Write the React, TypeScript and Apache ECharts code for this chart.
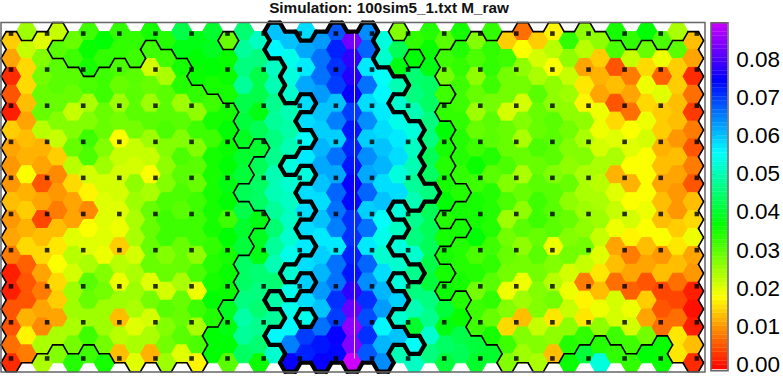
import React, { useEffect, useRef } from "react";
import * as echarts from "echarts";

const title = "Simulation: 100sim5_1.txt M_raw";
const tickValues = [0, 0.01, 0.02, 0.03, 0.04, 0.05, 0.06, 0.07, 0.08];
const scaleMin = -0.0012;
const scaleMax = 0.0896;

const col00 = [.014,.011,.002,.005,.001,.014,.011,.010,.010,.013,.010,.011,.008,.001,.001,.005,.005,.007,.002];
const col01 = [.025,.022,.015,.015,.013,.011,.013,.012,.018,.012,.014,.012,.015,.006,.005,.005,.012,.017,.008];
const col02 = [.020,.027,.028,.029,.029,.023,.012,.011,.005,.011,.004,.013,.015,.011,.008,.011,.009,.024,.024];
const col03 = [.022,.030,.030,.030,.029,.027,.022,.014,.009,.010,.008,.013,.016,.018,.015,.014,.011,.024,.027];
const col04 = [.029,.032,.030,.029,.022,.027,.029,.023,.015,.011,.011,.020,.023,.021,.025,.025,.024,.028,.034];
const col05 = [.032,.036,.035,.031,.024,.027,.032,.031,.021,.017,.009,.018,.020,.024,.030,.029,.025,.032,.032];
const col06 = [.037,.033,.032,.032,.029,.029,.027,.025,.021,.020,.020,.020,.019,.027,.028,.025,.025,.028,.035];
const col07 = [.033,.033,.031,.029,.025,.028,.018,.022,.021,.021,.020,.019,.014,.023,.019,.025,.013,.023,.013];
const col08 = [.033,.032,.030,.030,.030,.028,.022,.021,.026,.025,.024,.024,.021,.024,.025,.024,.020,.024,.020];
const col09 = [.035,.032,.021,.029,.025,.030,.025,.022,.018,.024,.029,.029,.029,.029,.020,.028,.021,.024,.012];
const col10 = [.034,.032,.024,.030,.030,.031,.027,.026,.027,.031,.032,.032,.027,.029,.021,.030,.027,.028,.025];
const col11 = [.042,.038,.035,.034,.025,.030,.027,.031,.030,.031,.030,.032,.029,.029,.024,.029,.029,.030,.020];
const col12 = [.038,.037,.036,.033,.026,.032,.027,.030,.029,.032,.032,.032,.026,.031,.019,.032,.024,.031,.017];
const col13 = [.040,.039,.037,.035,.032,.035,.032,.035,.035,.035,.035,.035,.033,.034,.035,.037,.034,.037,.037];
const col14 = [.029,.036,.036,.035,.035,.037,.036,.037,.038,.037,.032,.037,.035,.036,.036,.039,.038,.037,.030];
const col15 = [.045,.048,.046,.048,.042,.041,.039,.040,.041,.043,.042,.040,.041,.044,.044,.046,.049,.048,.044];
const col16 = [.051,.046,.042,.042,.038,.043,.040,.043,.044,.044,.038,.039,.038,.045,.046,.045,.047,.045,.036];
const col17 = [.060,.056,.051,.050,.047,.048,.046,.047,.050,.050,.048,.045,.048,.050,.045,.049,.048,.056,.052];
const col18 = [.060,.054,.053,.052,.050,.049,.050,.053,.052,.051,.051,.052,.054,.052,.054,.054,.056,.065,.075];
const col19 = [.058,.062,.057,.062,.058,.058,.055,.057,.053,.058,.058,.058,.057,.058,.059,.058,.054,.070,.072];
const col20 = [.063,.066,.066,.063,.060,.059,.061,.062,.060,.058,.060,.057,.059,.061,.063,.060,.066,.073,.075];
const col21 = [.068,.072,.071,.070,.060,.065,.059,.066,.062,.067,.066,.065,.057,.066,.066,.071,.070,.075,.074];
const col22 = [.083,.078,.077,.075,.070,.073,.072,.073,.075,.074,.071,.071,.072,.073,.078,.082,.085,.084,.090];
const col23 = [.064,.067,.057,.066,.058,.064,.059,.064,.062,.067,.059,.066,.057,.067,.064,.071,.069,.071,.068];
const col24 = [.053,.052,.055,.056,.057,.058,.060,.061,.058,.060,.055,.054,.052,.058,.061,.063,.056,.061,.064];
const col25 = [.027,.043,.038,.050,.052,.054,.057,.058,.053,.058,.053,.051,.053,.052,.053,.059,.052,.060,.050];
const col26 = [.033,.037,.045,.046,.050,.053,.051,.050,.048,.050,.047,.046,.052,.047,.046,.050,.040,.055,.051];
const col27 = [.034,.036,.038,.044,.044,.046,.046,.043,.044,.046,.043,.043,.043,.042,.041,.046,.047,.052,.046];
const col28 = [.030,.032,.028,.032,.033,.037,.035,.034,.035,.037,.034,.035,.035,.035,.036,.041,.038,.044,.041];
const col29 = [.035,.034,.033,.032,.032,.033,.034,.034,.033,.034,.035,.035,.034,.034,.035,.034,.036,.042,.043];
const col30 = [.027,.031,.026,.029,.025,.029,.032,.036,.032,.035,.035,.037,.031,.034,.028,.032,.032,.041,.040];
const col31 = [.033,.033,.033,.032,.028,.030,.030,.034,.030,.034,.034,.034,.032,.033,.030,.033,.029,.035,.040];
const col32 = [.014,.032,.028,.028,.021,.029,.029,.031,.027,.031,.025,.028,.029,.028,.019,.027,.015,.032,.027];
const col33 = [.007,.018,.026,.028,.021,.027,.024,.029,.024,.029,.026,.030,.026,.028,.019,.025,.013,.027,.025];
const col34 = [.014,.021,.024,.030,.029,.029,.031,.029,.030,.032,.032,.029,.030,.028,.027,.027,.022,.027,.024];
const col35 = [.017,.023,.018,.026,.026,.030,.030,.030,.027,.030,.030,.030,.019,.027,.023,.028,.016,.026,.013];
const col36 = [.033,.026,.022,.025,.026,.028,.027,.026,.029,.026,.029,.027,.028,.021,.019,.022,.026,.034,.036];
const col37 = [.026,.023,.011,.016,.017,.026,.024,.027,.024,.024,.025,.026,.028,.022,.008,.017,.016,.033,.041];
const col38 = [.026,.014,.012,.011,.019,.019,.021,.024,.023,.024,.025,.022,.020,.016,.013,.019,.026,.034,.053];
const col39 = [.035,.031,.005,.013,.005,.015,.020,.024,.012,.020,.022,.019,.011,.013,.007,.021,.021,.032,.033];
const col40 = [.033,.022,.008,.011,.007,.018,.020,.018,.012,.018,.021,.017,.008,.011,.006,.019,.021,.032,.033];
const col41 = [.037,.029,.015,.019,.015,.019,.021,.018,.018,.018,.019,.018,.013,.011,.005,.014,.011,.028,.037];
const col42 = [.031,.019,.006,.020,.014,.014,.012,.013,.011,.013,.013,.018,.010,.013,.004,.005,.007,.036,.036];
const col43 = [.024,.030,.014,.014,.013,.013,.010,.013,.011,.010,.010,.014,.016,.013,.007,.004,.007,.016,.016];
const col44 = [.013,.011,.002,.007,.003,.008,.005,.008,.005,.013,.015,.019,.011,.010,.001,.000,.001,.013,.002];

const columns = [
  col00, col01, col02, col03, col04, col05, col06, col07, col08, col09,
  col10, col11, col12, col13, col14, col15, col16, col17, col18, col19,
  col20, col21, col22, col23, col24, col25, col26, col27, col28, col29,
  col30, col31, col32, col33, col34, col35, col36, col37, col38, col39,
  col40, col41, col42, col43, col44,
];

// L and R: regions ringed by the thin line. C: region ringed by the thick line. M: the rest.
const regions = [
  "LLLLLLLLLLLLLLLLLLL", "MLLLLLLLLLLLLLLLLLL", "LLLLLLLLLLLLLLLLLLM", "LMLLLLLLLLLLLLLLLLM",
  "MMLLLLLLLLLLLLLLLLM", "MMMLLLLLLLLLLLLLLLM", "MMLLLLLLLLLLLLLLLLM", "MMLLLLLLLLLLLLLLLLL",
  "MMLLLLLLLLLLLLLLLLL", "MLLLLLLLLLLLLLLLLLL", "MLLLLLLLLLLLLLLLLLL", "MMLLLLLLLLLLLLLLLLL",
  "MMMLLLLLLLLLLLLLLLL", "MMMMLLLLLLLLLLLLLMM", "LMMMLLLLLLLLLLLMMMM", "MMMMMMMLLMLLLMMMMMM",
  "MMMMMMLMMMLMMMMMMMM", "CCMMMMMMMMMMMMMCMCM", "CCCCMMMCMMMMMCMCCCC", "MCCCMCMCMCMCMCMCMCC",
  "CCCCCCCCCCCCCCCCCCC", "CCCCCCCCCCCCCCCCCCC", "CCCCCCCCCCCCCCCCCCC", "CCCCCCCCCCCCCCCCCCC",
  "MMCCCCCCCCCCCCCCCCC", "RMMCMCCCCCMCMCMCMCM", "MRMMMCCCCCMMMCMMMCM", "MMMMMMMMMCMMMMMMMMM",
  "MRRMRMMMMMRMRMRMMMM", "MRRRRRRRRMRMRRRMMMM", "RRRRRRRRRRRRRRRRRMM", "MRRRRRRRRRRRRRRRRRM",
  "RRRRRRRRRRRRRRRRRRR", "RRRRRRRRRRRRRRRRRRR", "RRRRRRRRRRRRRRRRRRR", "RRRRRRRRRRRRRRRRRRR",
  "RRRRRRRRRRRRRRRRRRM", "RRRRRRRRRRRRRRRRRRM", "RRRRRRRRRRRRRRRRRMM", "MRRRRRRRRRRRRRRRRRM",
  "MRRRRRRRRRRRRRRRRRM", "MRRRRRRRRRRRRRRRRRM", "MRRRRRRRRRRRRRRRRMM", "MRRRRRRRRRRRRRRRRRR",
  "RRRRRRRRRRRRRRRRRRR",
];

const dotColumns = [-0.02, 2.31, 4.64, 6.97, 9.3, 11.63, 13.95, 16.28, 18.61, 20.94, 23.27, 25.6, 27.93, 30.26, 32.58, 34.91, 37.24, 39.57, 41.9, 44.23];
const dotRows = [0.11, 2.12, 4.14, 6.16, 8.17, 10.19, 12.21, 14.23, 16.24, 18.26];
const markerColumn = 22.14;
const markerRows = [0.11, 18.26];

const RX = 2 / 3;
const RX2 = 1 / 3;
const RY = 0.5;

function colorOf(v: number) {
  const t = Math.min(1, Math.max(0, (v - scaleMin) / (scaleMax - scaleMin)));
  const h = (t * 288) / 60;
  const i = Math.floor(h);
  const f = h - i;
  const up = Math.round(255 * f);
  const down = 255 - up;
  const table = [
    [255, up, 0], [down, 255, 0], [0, 255, up],
    [0, down, 255], [up, 0, 255], [255, 0, down],
  ];
  const c = table[i % 6];
  return `rgb(${c[0]},${c[1]},${c[2]})`;
}

const rowY = (c: number, r: number) => (c % 2 === 0 ? r + 0.5 : r);

const hexData: number[][] = [];
columns.forEach((col, c) => col.forEach((v, r) => hexData.push([c, rowY(c, r), v])));

function neighbours(c: number, r: number) {
  const even = c % 2 === 0;
  const x = c, y = rowY(c, r);
  return [
    { nc: c, nr: r - 1, a: [x - RX2, y - RY], b: [x + RX2, y - RY] },
    { nc: c, nr: r + 1, a: [x - RX2, y + RY], b: [x + RX2, y + RY] },
    { nc: c + 1, nr: even ? r : r - 1, a: [x + RX2, y - RY], b: [x + RX, y] },
    { nc: c + 1, nr: even ? r + 1 : r, a: [x + RX, y], b: [x + RX2, y + RY] },
    { nc: c - 1, nr: even ? r : r - 1, a: [x - RX2, y - RY], b: [x - RX, y] },
    { nc: c - 1, nr: even ? r + 1 : r, a: [x - RX, y], b: [x - RX2, y + RY] },
  ];
}

const thinEdges: number[][] = [];
const thickEdges: number[][] = [];
regions.forEach((s, c) => {
  for (let r = 0; r < s.length; r++) {
    const k = s[r];
    if (k !== "M") {
      neighbours(c, r).forEach(({ nc, nr, a, b }) => {
        const other = regions[nc] ? regions[nc][nr] : undefined;
        if (other !== k) {
          (k === "C" ? thickEdges : thinEdges).push([a[0], a[1], b[0], b[1]]);
        }
      });
    }
  }
});

const dotData: number[][] = [];
dotColumns.forEach((x) => dotRows.forEach((y) => dotData.push([x, y])));

const barSteps = 80;
const barData: number[][] = [];
for (let i = 0; i < barSteps; i++) {
  const lo = scaleMin + ((scaleMax - scaleMin) * i) / barSteps;
  const hi = scaleMin + ((scaleMax - scaleMin) * (i + 1)) / barSteps;
  barData.push([lo, hi]);
}

const edgeSeries = (data: number[][], width: number) => ({
  type: "custom",
  xAxisIndex: 0,
  yAxisIndex: 0,
  silent: true,
  clip: false,
  data,
  encode: { x: [0, 2], y: [1, 3] },
  renderItem: (_: any, api: any) => {
    const p = api.coord([api.value(0), api.value(1)]);
    const q = api.coord([api.value(2), api.value(3)]);
    return {
      type: "line",
      shape: { x1: p[0], y1: p[1], x2: q[0], y2: q[1] },
      style: { stroke: "#000", lineWidth: width, lineCap: "round", fill: null },
    };
  },
});

export default function App() {
  const ref = useRef<HTMLDivElement>(null);
  useEffect(() => {
    const chart = echarts.init(ref.current!, undefined, { renderer: "svg" });
    chart.setOption({
      animation: false,
      backgroundColor: "#fff",
      title: {
        text: title,
        left: 389,
        top: 0,
        padding: 0,
        textAlign: "center",
        textStyle: { fontFamily: "Liberation Sans", fontWeight: "bold", fontSize: 15.3, color: "#111" },
      },
      grid: [
        { left: 2, top: 22, width: 703, height: 350, show: false },
        { left: 711, top: 22.7, width: 17, height: 348, show: false },
      ],
      xAxis: [
        { type: "value", gridIndex: 0, min: -0.6, max: 44.755, show: false },
        { type: "value", gridIndex: 1, min: 0, max: 1, show: false },
      ],
      yAxis: [
        { type: "value", gridIndex: 0, min: -0.536, max: 19.016, inverse: true, show: false },
        {
          type: "value",
          gridIndex: 1,
          min: scaleMin,
          max: scaleMax,
          position: "right",
          axisLine: { show: false },
          splitLine: { show: false },
          axisTick: { show: true, length: 5, customValues: tickValues, lineStyle: { color: "#555", width: 1 } },
          axisLabel: {
            show: true,
            customValues: tickValues,
            margin: 9,
            padding: [2, 0, 0, 0],
            fontFamily: "Liberation Sans",
            fontSize: 22.5,
            color: "#000",
            formatter: (v: number) => v.toFixed(2),
          },
        },
      ],
      graphic: [
        { type: "rect", z: 100, shape: { x: 1, y: 22.5, width: 704, height: 349.5 }, style: { fill: "none", stroke: "#666", lineWidth: 1.5 }, silent: true },
        { type: "rect", z: 100, shape: { x: 711, y: 22.7, width: 17, height: 348 }, style: { fill: "none", stroke: "#666", lineWidth: 1.5 }, silent: true },
      ],
      series: [
        {
          type: "custom",
          xAxisIndex: 0,
          yAxisIndex: 0,
          silent: true,
          clip: false,
          data: hexData,
          encode: { x: 0, y: 1 },
          renderItem: (_: any, api: any) => {
            const x = api.value(0);
            const y = api.value(1);
            const fill = colorOf(api.value(2));
            const pts = [
              [x - RX, y], [x - RX2, y - RY], [x + RX2, y - RY],
              [x + RX, y], [x + RX2, y + RY], [x - RX2, y + RY],
            ].map((p) => api.coord(p));
            return {
              type: "polygon",
              shape: { points: pts },
              style: { fill, stroke: fill, lineWidth: 1 },
            };
          },
        },
        edgeSeries(thinEdges, 1.6),
        edgeSeries(thickEdges, 4.2),
        {
          type: "scatter",
          xAxisIndex: 0,
          yAxisIndex: 0,
          silent: true,
          symbol: "rect",
          symbolSize: 4.6,
          itemStyle: { color: "#000" },
          data: dotData,
        },
        {
          type: "line",
          xAxisIndex: 0,
          yAxisIndex: 0,
          silent: true,
          symbol: "none",
          lineStyle: { color: "#dcdcf5", width: 1 },
          data: markerRows.map((y) => [markerColumn, y]),
        },
        {
          type: "custom",
          xAxisIndex: 1,
          yAxisIndex: 1,
          silent: true,
          data: barData,
          encode: { y: [0, 1] },
          renderItem: (_: any, api: any) => {
            const lo = api.value(0);
            const hi = api.value(1);
            const a = api.coord([0, lo]);
            const b = api.coord([1, hi]);
            const fill = colorOf((lo + hi) / 2);
            return {
              type: "rect",
              shape: { x: a[0], y: b[1], width: b[0] - a[0], height: a[1] - b[1] },
              style: { fill, stroke: fill, lineWidth: 0.3 },
            };
          },
        },
      ],
    });
    return () => chart.dispose();
  }, []);
  return <div ref={ref} style={{ position: "fixed", left: 0, top: 0, width: 783, height: 376 }} />;
}
